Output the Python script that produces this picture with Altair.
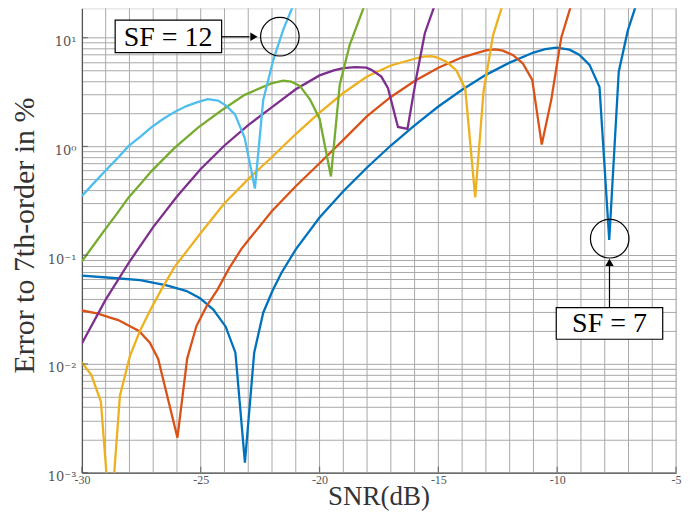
import altair as alt
import pandas as pd

# ---------------- data ----------------
SF_NAMES = ["SF7", "SF8", "SF9", "SF10", "SF11", "SF12"]
SF_COLORS = ["#0072BD", "#D95319", "#EDB120", "#7E2F8E", "#77AC30", "#4DBEEE"]

sf7_x = [-30, -28.8, -27.55, -26.43, -25.59, -25.03, -24.47, -23.95, -23.54, -23.14,
         -22.75, -22.37, -21.98, -21.6, -21.0, -20.0, -19.0, -18.0, -17.0, -16.0,
         -15.0, -14.0, -13.0, -12.0, -11.0, -10.5, -10.04, -9.48, -9.06, -8.64,
         -8.22, -7.81, -7.41, -7.03, -6.68, -6.3]
sf7_y = [0.065, 0.062, 0.059, 0.0527, 0.0468, 0.0402, 0.0316, 0.022, 0.0127, 0.00124,
         0.0127, 0.0296, 0.047, 0.069, 0.113, 0.222, 0.387, 0.64, 1.02, 1.56,
         2.33, 3.32, 4.55, 5.9, 7.3, 7.85, 8.1, 7.75, 6.94, 5.62,
         3.51, 0.138, 4.87, 11.6, 20, 33]

sf8_x = [-30, -29.32, -28.81, -28.47, -27.6, -27.14, -26.79, -25.98, -25.57, -25.18,
         -24.75, -24.3, -23.8, -23.3, -23.0, -22.0, -21.0, -20.0, -19.0, -18.0,
         -17.0, -16.0, -15.0, -14.0, -13.0, -12.6, -12.29, -11.87, -11.45, -11.05,
         -10.65, -10.25, -9.83, -9.41, -9.0]
sf8_y = [0.031, 0.029, 0.0267, 0.0253, 0.0201, 0.0157, 0.0111, 0.0021, 0.0112, 0.0223,
         0.034, 0.048, 0.076, 0.113, 0.137, 0.255, 0.43, 0.7, 1.15, 1.9,
         2.85, 4.0, 5.3, 6.6, 7.65, 7.8, 7.6, 6.94, 5.82, 4.09,
         1.04, 2.68, 10.0, 20, 35]

sf9_x = [-30, -29.6, -29.2, -28.8, -28.4, -27.98, -27.56, -27.1, -26.65, -26.1,
         -25.53, -25.0, -24.0, -23.0, -22.0, -21.0, -20.0, -19.0, -18.0, -17.0,
         -16.0, -15.65, -15.3, -15.08, -14.66, -14.24, -13.87, -13.45, -13.1, -12.7,
         -12.3, -11.9]
sf9_y = [0.0103, 0.0079, 0.0045, 0.00033, 0.0051, 0.0118, 0.0201, 0.032, 0.0485, 0.078,
         0.113, 0.16, 0.3, 0.5, 0.8, 1.3, 2.05, 3.1, 4.4, 5.55,
         6.4, 6.7, 6.75, 6.6, 6.0, 5.0, 3.4, 0.34, 3.2, 10.5,
         20, 35]

sf10_x = [-30, -29.0, -28.0, -27.0, -26.0, -25.0, -24.0, -23.0, -22.0, -21.0,
          -20.0, -19.4, -19.0, -18.5, -18.03, -17.82, -17.4, -17.12, -16.7, -16.3,
          -15.92, -15.57, -15.15, -14.8]
sf10_y = [0.0154, 0.039, 0.087, 0.181, 0.347, 0.62, 1.02, 1.57, 2.3, 3.35,
          4.5, 5.0, 5.24, 5.35, 5.3, 5.06, 4.39, 3.43, 1.51, 1.45,
          4.39, 11.0, 20, 33]

sf11_x = [-30, -29.5, -29.03, -28.5, -28.05, -27.5, -27.08, -26.1, -25.1, -24.13,
          -23.15, -22.03, -21.53, -21.2, -20.83, -20.4, -20.0, -19.52, -19.15, -18.73,
          -18.1, -17.8]
sf11_y = [0.088, 0.124, 0.172, 0.245, 0.336, 0.46, 0.59, 0.97, 1.5, 2.14,
          2.98, 3.8, 4.03, 3.95, 3.6, 2.7, 1.8, 0.53, 3.7, 8.6,
          20, 30]

sf12_x = [-30, -29.5, -29.0, -28.5, -28.05, -27.5, -27.08, -26.6, -26.1, -25.6,
          -25.1, -24.7, -24.27, -23.92, -23.56, -23.15, -22.72, -22.37, -21.95, -21.53,
          -21.1, -20.7]
sf12_y = [0.35, 0.46, 0.6, 0.78, 1.0, 1.25, 1.5, 1.78, 2.07, 2.35,
          2.57, 2.72, 2.64, 2.36, 1.97, 1.2, 0.41, 2.68, 6.2, 11.8,
          20, 32]

X_TICKS = [-30, -25, -20, -15, -10, -5]
X_GRID = list(range(-29, -4))
Y_DECADES = [0.001, 0.01, 0.1, 1, 10]

# annotation texts (data coordinates)
ANN_TEXT = ["SF = 12", "SF = 7"]
ANN_TEXT_X = [-26.37, -7.8]
ANN_TEXT_Y = [10.2, 0.0236]
ANN_BOX_X = [-28.6, -10.04]
ANN_BOX_X2 = [-24.12, -5.56]
ANN_BOX_Y = [14.5, 0.0329]
ANN_BOX_Y2 = [7.28, 0.01686]
CIRCLE_X = [-21.67, -7.79]
CIRCLE_Y = [10.2, 0.1417]

# ---------------- build tables ----------------
series = [sf7_x, sf7_y, sf8_x, sf8_y, sf9_x, sf9_y, sf10_x, sf10_y, sf11_x, sf11_y, sf12_x, sf12_y]
rows = []
for k, name in enumerate(SF_NAMES):
    xs, ys = series[2 * k], series[2 * k + 1]
    for x, y in zip(xs, ys):
        rows.append({"sf": name, "snr": x, "err": y, "k": k})
df = pd.DataFrame(rows)

W, H = 595, 465
Y_TOP = 18.6
xsc = alt.Scale(domain=[-30, -5], nice=False, zero=False)
ysc = alt.Scale(type="log", domain=[0.001, Y_TOP], nice=False)

y_grid = [m * 10.0 ** e for e in range(-3, 2) for m in range(1, 10) if m * 10.0 ** e <= Y_TOP]

SERIF = "Liberation Serif"
GRID = "#a9a9a9"
lg = "round(log(datum.value)/LN10)"
y_label_expr = (
    f"abs(log(datum.value)/LN10 - {lg}) < 0.001 ? '10' + "
    f"({lg} == 1 ? '¹' : {lg} == 0 ? '⁰' : {lg} == -1 ? '⁻¹' : {lg} == -2 ? '⁻²' : '⁻³') : ''"
)

vgrid = alt.Chart(pd.DataFrame({"snr": X_GRID})).mark_rule(color=GRID, strokeWidth=1).encode(
    x=alt.X("snr:Q", scale=xsc))

lines = alt.Chart(df).mark_line(strokeWidth=2.3, clip=True).encode(
    x=alt.X("snr:Q", scale=xsc,
            axis=alt.Axis(values=X_TICKS, labelExpr="'' + datum.value",
                          ticks=False, grid=False,
                          domainColor="#555555", domainWidth=1.3,
                          labelFont=SERIF, labelFontSize=12, labelColor="#555555",
                          labelPadding=2, labelFlush=False, labelOverlap=False,
                          title="SNR(dB)", titleFont=SERIF, titleFontSize=27,
                          titleFontWeight="normal", titleColor="#333333",
                          titleX=297, titleY=32, titleBaseline="alphabetic", titleAlign="center")),
    y=alt.Y("err:Q", scale=ysc,
            axis=alt.Axis(values=y_grid, labelExpr=y_label_expr,
                          ticks=False, grid=True, gridColor=GRID, gridWidth=1,
                          domainColor="#555555", domainWidth=1.3,
                          labelFont="DejaVu Serif", labelFontSize=13, labelColor="#555555",
                          labelPadding=6, labelOffset=4, labelFlush=False, labelOverlap=False,
                          title="Error to 7th-order in %", titleFont=SERIF, titleFontSize=30,
                          titleFontWeight="normal", titleColor="#333333",
                          titleX=-48, titleY=227, titleAngle=-90,
                          titleBaseline="alphabetic", titleAlign="center")),
    color=alt.Color("sf:N", scale=alt.Scale(domain=SF_NAMES, range=SF_COLORS), legend=None),
    order=alt.Order("k:Q"),
    detail="sf:N",
)

xt = alt.Chart(pd.DataFrame({"snr": X_TICKS})).mark_tick(
    orient="vertical", color="#555555", thickness=1.3, size=6
).encode(x=alt.X("snr:Q", scale=xsc), y=alt.value(H - 3))

yt = alt.Chart(pd.DataFrame({"err": Y_DECADES})).mark_tick(
    orient="horizontal", color="#555555", thickness=1.3, size=6
).encode(y=alt.Y("err:Q", scale=ysc), x=alt.value(3))

ann = pd.DataFrame({
    "text": ANN_TEXT, "snr": ANN_TEXT_X, "err": ANN_TEXT_Y,
    "bx": ANN_BOX_X, "bx2": ANN_BOX_X2, "by": ANN_BOX_Y, "by2": ANN_BOX_Y2,
})
boxes = alt.Chart(ann).mark_rect(fill="white", stroke="black", strokeWidth=1.2).encode(
    x=alt.X("bx:Q", scale=xsc), x2="bx2:Q", y=alt.Y("by:Q", scale=ysc), y2="by2:Q")
texts = alt.Chart(ann).mark_text(font=SERIF, fontSize=28, color="black", baseline="middle",
                                 align="center", dy=1).encode(
    x=alt.X("snr:Q", scale=xsc), y=alt.Y("err:Q", scale=ysc), text="text:N")

circ = alt.Chart(pd.DataFrame({"snr": CIRCLE_X, "err": CIRCLE_Y})).mark_point(
    shape="circle", filled=False, size=1490, color="black", strokeWidth=1.2, opacity=1
).encode(x=alt.X("snr:Q", scale=xsc), y=alt.Y("err:Q", scale=ysc))

# arrows
arr12 = alt.Chart(pd.DataFrame({"snr": [-24.12], "snr2": [-22.95], "err": [10.2]})).mark_rule(
    color="black", strokeWidth=1.2).encode(
    x=alt.X("snr:Q", scale=xsc), x2="snr2:Q", y=alt.Y("err:Q", scale=ysc))
head12 = alt.Chart(pd.DataFrame({"snr": [-22.76], "err": [10.2]})).mark_point(
    shape="triangle-right", filled=True, size=70, color="black", opacity=1).encode(
    x=alt.X("snr:Q", scale=xsc), y=alt.Y("err:Q", scale=ysc))
arr7 = alt.Chart(pd.DataFrame({"snr": [-7.8], "err": [0.0329], "err2": [0.082]})).mark_rule(
    color="black", strokeWidth=1.2).encode(
    x=alt.X("snr:Q", scale=xsc), y=alt.Y("err:Q", scale=ysc), y2="err2:Q")
head7 = alt.Chart(pd.DataFrame({"snr": [-7.8], "err": [0.0857]})).mark_point(
    shape="triangle-up", filled=True, size=70, color="black", opacity=1).encode(
    x=alt.X("snr:Q", scale=xsc), y=alt.Y("err:Q", scale=ysc))

chart = alt.layer(vgrid, lines, xt, yt, arr12, head12, arr7, head7, circ, boxes, texts).properties(
    width=W, height=H,
    autosize=alt.AutoSizeParams(type="none"),
    padding={"left": 74, "top": 0, "right": 15, "bottom": 42},
).configure_view(stroke=None).configure(background="white")

chart.save("out.html", embed_options={"renderer": "svg", "actions": False})
